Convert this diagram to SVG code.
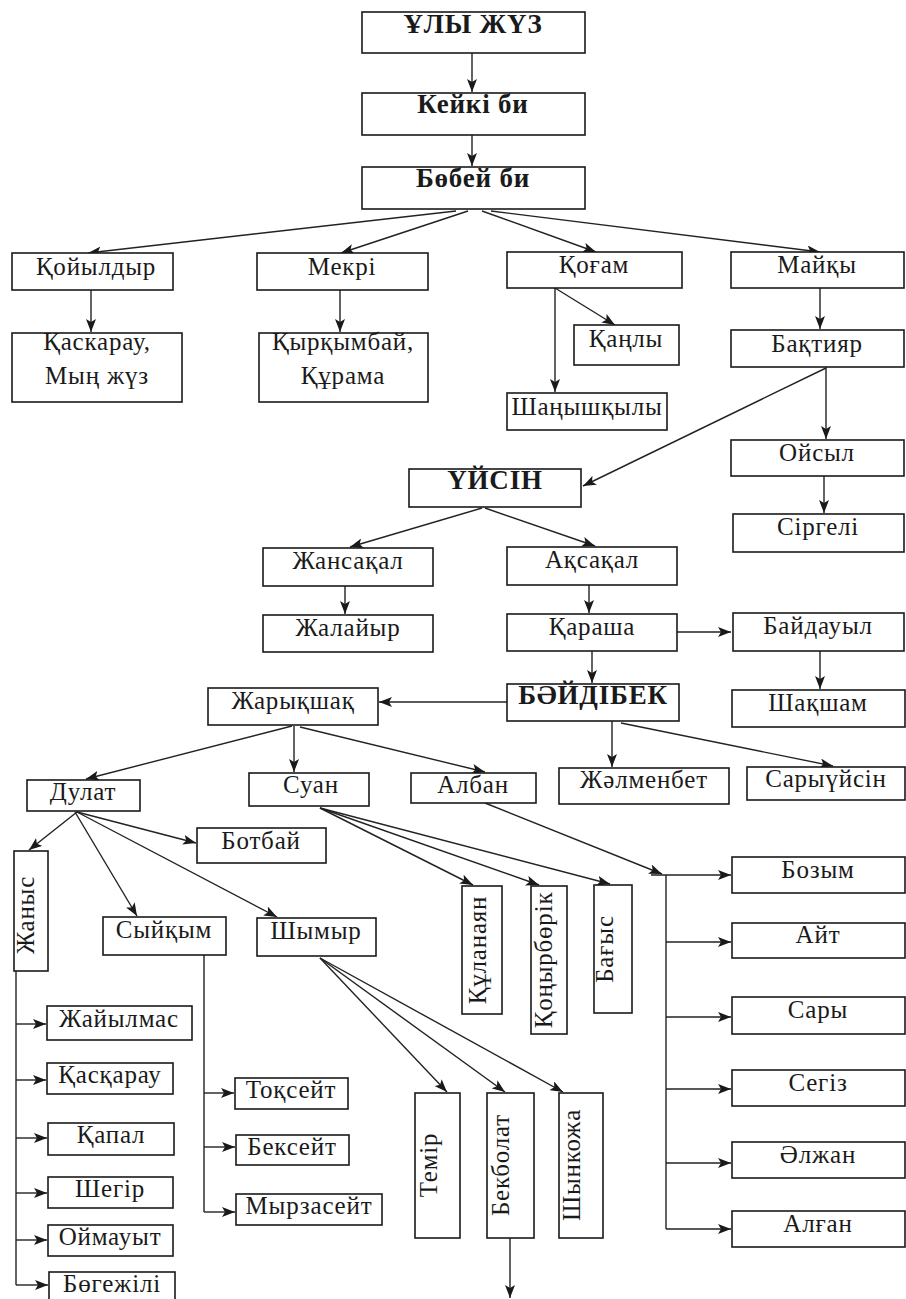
<svg xmlns="http://www.w3.org/2000/svg" width="906" height="1299" viewBox="0 0 906 1299">
<defs>
<style>
.bx{fill:#fff;stroke:#1a1a1a;stroke-width:1.6}
.t{font-family:"Liberation Serif","DejaVu Serif",serif;font-size:25px;letter-spacing:0.8px;fill:#1a1a1a;text-anchor:middle}
.b{font-weight:bold;font-size:27px}
.c line,.c path{stroke:#222;stroke-width:1.4;fill:none}
.a{marker-end:url(#ah)}
</style>
<marker id="ah" markerWidth="14" markerHeight="10" refX="13" refY="5" orient="auto" markerUnits="userSpaceOnUse"><path d="M0,0 L13,5 L0,10 L3,5 z" fill="#1a1a1a"/></marker>
</defs>
<rect width="906" height="1299" fill="#fff"/>
<g class="c" id="connectors">
<line class="a" x1="472" y1="53" x2="472" y2="92"/>
<line class="a" x1="472" y1="135" x2="472" y2="166"/>
<line class="a" x1="456" y1="211" x2="88" y2="253"/>
<line class="a" x1="468" y1="211" x2="341" y2="253"/>
<line class="a" x1="482" y1="211" x2="596" y2="252"/>
<line class="a" x1="491" y1="211" x2="820" y2="252"/>
<line class="a" x1="91" y1="290" x2="91" y2="332"/>
<line class="a" x1="340" y1="290" x2="340" y2="332"/>
<line class="a" x1="555" y1="288" x2="615" y2="325"/>
<line class="a" x1="555" y1="288" x2="555" y2="392"/>
<line class="a" x1="820" y1="288" x2="820" y2="329"/>
<line class="a" x1="826" y1="367" x2="826" y2="439"/>
<line class="a" x1="826" y1="368" x2="583" y2="486"/>
<line class="a" x1="824" y1="476" x2="824" y2="513"/>
<line class="a" x1="482" y1="508" x2="350" y2="547"/>
<line class="a" x1="485" y1="508" x2="595" y2="546"/>
<line class="a" x1="345" y1="586" x2="345" y2="614"/>
<line class="a" x1="589" y1="585" x2="589" y2="613"/>
<line class="a" x1="677" y1="632" x2="731" y2="632"/>
<line class="a" x1="592" y1="651" x2="592" y2="683"/>
<line class="a" x1="820" y1="651" x2="820" y2="689"/>
<line class="a" x1="507" y1="702" x2="379" y2="702"/>
<line class="a" x1="612" y1="721" x2="612" y2="767"/>
<line class="a" x1="621" y1="723" x2="833" y2="766"/>
<line class="a" x1="292" y1="726" x2="86" y2="779"/>
<line class="a" x1="294" y1="726" x2="294" y2="772"/>
<line class="a" x1="300" y1="727" x2="485" y2="772"/>
<line class="a" x1="77" y1="812" x2="29" y2="850"/>
<line class="a" x1="75" y1="812" x2="137" y2="916"/>
<line class="a" x1="77" y1="812" x2="277" y2="917"/>
<line class="a" x1="77" y1="812" x2="196" y2="843"/>
<line class="a" x1="320" y1="808" x2="473" y2="885"/>
<line class="a" x1="320" y1="808" x2="539" y2="885"/>
<line class="a" x1="320" y1="808" x2="610" y2="884"/>
<line class="a" x1="485" y1="803" x2="662" y2="874"/>
<line class="a" x1="651" y1="875" x2="731" y2="875"/>
<line x1="666" y1="875" x2="666" y2="1229"/>
<line class="a" x1="666" y1="942" x2="731" y2="942"/>
<line class="a" x1="666" y1="1017" x2="731" y2="1017"/>
<line class="a" x1="666" y1="1089" x2="731" y2="1089"/>
<line class="a" x1="666" y1="1163" x2="731" y2="1163"/>
<line class="a" x1="666" y1="1229" x2="731" y2="1229"/>
<line x1="16" y1="971" x2="16" y2="1285"/>
<line class="a" x1="16" y1="1024" x2="46" y2="1024"/>
<line class="a" x1="16" y1="1080" x2="46" y2="1080"/>
<line class="a" x1="16" y1="1138" x2="47" y2="1138"/>
<line class="a" x1="16" y1="1193" x2="47" y2="1193"/>
<line class="a" x1="16" y1="1240" x2="47" y2="1240"/>
<line class="a" x1="16" y1="1285" x2="48" y2="1285"/>
<line x1="204" y1="955" x2="204" y2="1212"/>
<line class="a" x1="204" y1="1093" x2="234" y2="1093"/>
<line class="a" x1="204" y1="1147" x2="235" y2="1147"/>
<line class="a" x1="204" y1="1212" x2="235" y2="1212"/>
<line class="a" x1="320" y1="958" x2="447" y2="1092"/>
<line class="a" x1="320" y1="958" x2="505" y2="1092"/>
<line class="a" x1="320" y1="958" x2="563" y2="1092"/>
<line class="a" x1="510" y1="1238" x2="510" y2="1298"/>
</g>
<g id="ulyzhuz"><rect class="bx" x="362" y="12" width="223" height="41"/><text class="t b" x="473" y="33">ҰЛЫ ЖҮЗ</text></g>
<g id="keyki"><rect class="bx" x="362" y="93" width="223" height="42"/><text class="t b" x="473" y="113">Кейкі би</text></g>
<g id="bobey"><rect class="bx" x="362" y="167" width="223" height="42"/><text class="t b" x="473" y="187">Бөбей би</text></g>
<g id="koyyldyr"><rect class="bx" x="12" y="253" width="161" height="37"/><text class="t" x="96" y="275">Қойылдыр</text></g>
<g id="mekri"><rect class="bx" x="257" y="253" width="171" height="37"/><text class="t" x="342" y="275">Мекрі</text></g>
<g id="kogam"><rect class="bx" x="507" y="252" width="175" height="36"/><text class="t" x="594" y="273">Қоғам</text></g>
<g id="mayky"><rect class="bx" x="731" y="252" width="173" height="36"/><text class="t" x="817" y="273">Майқы</text></g>
<g id="kaskarau1"><rect class="bx" x="12" y="333" width="170" height="69"/><text class="t" x="97" y="350">Қаскарау,</text><text class="t" x="97" y="384">Мың жүз</text></g>
<g id="kyrkymbay"><rect class="bx" x="259" y="333" width="169" height="69"/><text class="t" x="343" y="350">Қырқымбай,</text><text class="t" x="343" y="384">Құрама</text></g>
<g id="kanly"><rect class="bx" x="574" y="325" width="105" height="40"/><text class="t" x="626" y="347">Қаңлы</text></g>
<g id="baktiyar"><rect class="bx" x="731" y="330" width="173" height="37"/><text class="t" x="817" y="352">Бақтияр</text></g>
<g id="shanyshkyly"><rect class="bx" x="507" y="393" width="160" height="37"/><text class="t" x="587" y="415">Шаңышқылы</text></g>
<g id="oysyl"><rect class="bx" x="731" y="440" width="173" height="36"/><text class="t" x="817" y="461">Ойсыл</text></g>
<g id="uysin"><rect class="bx" x="409" y="469" width="172" height="38"/><text class="t b" x="495" y="489">ҮЙСІН</text></g>
<g id="sirgeli"><rect class="bx" x="733" y="514" width="171" height="38"/><text class="t" x="818" y="535">Сіргелі</text></g>
<g id="zhansakal"><rect class="bx" x="263" y="548" width="170" height="38"/><text class="t" x="348" y="569">Жансақал</text></g>
<g id="aksakal"><rect class="bx" x="507" y="547" width="170" height="38"/><text class="t" x="592" y="568">Ақсақал</text></g>
<g id="zhalayyr"><rect class="bx" x="263" y="615" width="170" height="37"/><text class="t" x="348" y="636">Жалайыр</text></g>
<g id="karasha"><rect class="bx" x="507" y="614" width="170" height="37"/><text class="t" x="592" y="635">Қараша</text></g>
<g id="baydauyl"><rect class="bx" x="733" y="613" width="171" height="38"/><text class="t" x="818" y="634">Байдауыл</text></g>
<g id="baydibek"><rect class="bx" x="507" y="684" width="172" height="37"/><text class="t b" x="593" y="704">БӘЙДІБЕК</text></g>
<g id="shaksham"><rect class="bx" x="732" y="690" width="173" height="37"/><text class="t" x="818" y="711">Шақшам</text></g>
<g id="zharykshak"><rect class="bx" x="208" y="688" width="170" height="37"/><text class="t" x="293" y="709">Жарықшақ</text></g>
<g id="dulat"><rect class="bx" x="27" y="780" width="113" height="31"/><text class="t" x="83" y="800">Дулат</text></g>
<g id="suan"><rect class="bx" x="249" y="773" width="120" height="33"/><text class="t" x="311" y="793">Суан</text></g>
<g id="alban"><rect class="bx" x="411" y="773" width="125" height="30"/><text class="t" x="473" y="793">Албан</text></g>
<g id="zhalmenbet"><rect class="bx" x="559" y="768" width="170" height="36"/><text class="t" x="644" y="788">Жәлменбет</text></g>
<g id="saryuysin"><rect class="bx" x="747" y="767" width="158" height="33"/><text class="t" x="826" y="787">Сарыүйсін</text></g>
<g id="botbay"><rect class="bx" x="197" y="828" width="129" height="35"/><text class="t" x="261" y="849">Ботбай</text></g>
<g id="zhanys"><rect class="bx" x="14" y="851" width="34" height="120"/><text class="t" transform="translate(34,915) rotate(-90)">Жаныс</text></g>
<g id="syykym"><rect class="bx" x="103" y="917" width="123" height="38"/><text class="t" x="164" y="938">Сыйқым</text></g>
<g id="shymyr"><rect class="bx" x="257" y="918" width="119" height="38"/><text class="t" x="316" y="939">Шымыр</text></g>
<g id="kulanayan"><rect class="bx" x="462" y="886" width="40" height="128"/><text class="t" transform="translate(486,950) rotate(-90)">Құланаян</text></g>
<g id="konyrborik"><rect class="bx" x="531" y="886" width="36" height="148"/><text class="t" transform="translate(552,960) rotate(-90)">Қоңырбөрік</text></g>
<g id="bagys"><rect class="bx" x="594" y="885" width="38" height="128"/><text class="t" transform="translate(613,949) rotate(-90)">Бағыс</text></g>
<g id="bozym"><rect class="bx" x="732" y="857" width="173" height="36"/><text class="t" x="818" y="878">Бозым</text></g>
<g id="ayt"><rect class="bx" x="732" y="923" width="173" height="35"/><text class="t" x="818" y="943">Айт</text></g>
<g id="sary"><rect class="bx" x="732" y="997" width="173" height="37"/><text class="t" x="818" y="1018">Сары</text></g>
<g id="segiz"><rect class="bx" x="732" y="1070" width="173" height="36"/><text class="t" x="818" y="1091">Сегіз</text></g>
<g id="alzhan"><rect class="bx" x="732" y="1142" width="173" height="36"/><text class="t" x="818" y="1163">Әлжан</text></g>
<g id="algan"><rect class="bx" x="732" y="1211" width="173" height="36"/><text class="t" x="818" y="1232">Алған</text></g>
<g id="zhayylmas"><rect class="bx" x="47" y="1006" width="145" height="34"/><text class="t" x="119" y="1027">Жайылмас</text></g>
<g id="kaskarau2"><rect class="bx" x="47" y="1063" width="126" height="31"/><text class="t" x="110" y="1083">Қасқарау</text></g>
<g id="kapal"><rect class="bx" x="48" y="1123" width="126" height="32"/><text class="t" x="111" y="1143">Қапал</text></g>
<g id="shegir"><rect class="bx" x="48" y="1177" width="125" height="31"/><text class="t" x="110" y="1197">Шегір</text></g>
<g id="oymauyt"><rect class="bx" x="48" y="1225" width="125" height="31"/><text class="t" x="110" y="1245">Оймауыт</text></g>
<g id="bogezhili"><rect class="bx" x="49" y="1272" width="126" height="32"/><text class="t" x="112" y="1292">Бөгежілі</text></g>
<g id="toksеyt"><rect class="bx" x="235" y="1078" width="113" height="31"/><text class="t" x="291" y="1098">Тоқсейт</text></g>
<g id="beksеyt"><rect class="bx" x="236" y="1135" width="113" height="30"/><text class="t" x="292" y="1155">Бексейт</text></g>
<g id="myrzaseyt"><rect class="bx" x="236" y="1194" width="146" height="31"/><text class="t" x="309" y="1214">Мырзасейт</text></g>
<g id="temir"><rect class="bx" x="415" y="1093" width="45" height="145"/><text class="t" transform="translate(437,1165) rotate(-90)">Темір</text></g>
<g id="bekbolat"><rect class="bx" x="487" y="1093" width="47" height="145"/><text class="t" transform="translate(509,1165) rotate(-90)">Бекболат</text></g>
<g id="shynkozha"><rect class="bx" x="559" y="1093" width="44" height="145"/><text class="t" transform="translate(580,1165) rotate(-90)">Шынкожа</text></g>
</svg>
